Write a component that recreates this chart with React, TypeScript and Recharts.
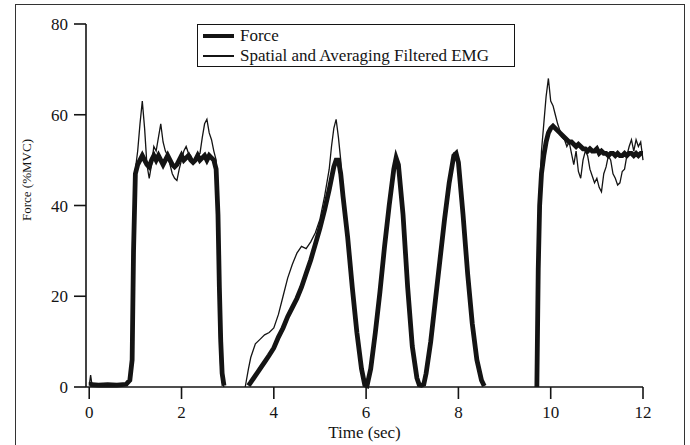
import React from 'react';
import { LineChart, Line, XAxis, YAxis } from 'recharts';

const FONT = '"Liberation Serif", "Times New Roman", serif';
const INK = '#141414';

// time axis (sec); nulls in the series mark stretches where nothing was plotted
const timeSec = [
  // rest, then step up
  0, 0.03, 0.06, 0.2, 0.4, 0.6, 0.8, 0.88, 0.93, 0.96, 1.0,
  // hold
  1.05, 1.1, 1.15, 1.2, 1.25, 1.3, 1.35, 1.4, 1.45, 1.5,
  1.55, 1.6, 1.65, 1.7, 1.75, 1.8, 1.85, 1.9, 1.95, 2.0,
  2.05, 2.1, 2.15, 2.2, 2.25, 2.3, 2.35, 2.4, 2.45, 2.5,
  2.55, 2.6, 2.65, 2.7, 2.75,
  // release + gap
  2.79, 2.82, 2.85, 2.88, 2.92, 3.1,
  // ramp up and down
  3.38, 3.45, 3.5, 3.6, 3.7, 3.8, 3.9, 4.0, 4.1, 4.2,
  4.3, 4.4, 4.5, 4.6, 4.7, 4.8, 4.9, 5.0, 5.1, 5.2,
  5.25, 5.3, 5.35, 5.4, 5.45, 5.5, 5.6, 5.7, 5.8, 5.9,
  5.97,
  // two fast peaks
  6.02, 6.1, 6.2, 6.3, 6.4, 6.5, 6.6, 6.65, 6.7, 6.8,
  6.9, 7.0, 7.1, 7.15, 7.2, 7.25, 7.3, 7.4, 7.5, 7.6,
  7.7, 7.8, 7.9, 7.95, 8.0, 8.1, 8.2, 8.3, 8.4, 8.5,
  8.56,
  // gap
  9.0,
  // final step
  9.7, 9.73, 9.76,
  9.8, 9.85, 9.9, 9.95,
  10.0, 10.05, 10.1, 10.15, 10.2, 10.25, 10.3, 10.35, 10.4, 10.45,
  10.5, 10.55, 10.6, 10.65, 10.7, 10.75, 10.8, 10.85, 10.9, 10.95,
  11.0, 11.05, 11.1, 11.15, 11.2, 11.25, 11.3, 11.35, 11.4, 11.45,
  11.5, 11.55, 11.6, 11.65, 11.7, 11.75, 11.8, 11.85, 11.9, 11.95,
  12.0,
];

const forcePct = [
  0.5, 0.6, 0.5, 0.4, 0.5, 0.4, 0.6, 1.5, 6, 30, 47,
  49, 50, 51, 50, 49, 48.5, 50, 51, 50, 51,
  50, 49, 50, 51, 50, 49, 48.5, 49, 50, 51,
  50, 50.5, 51, 50, 49.5, 50, 51, 50, 50.5, 51,
  50, 51, 50.5, 50, 48,
  38, 22, 10, 3, 0.3, null,
  null, 0.3, 1, 2.5, 4, 5.5, 7, 8.6, 11, 13,
  15.5, 17.5, 19.5, 22, 25, 28, 31.5, 35, 39, 43.5,
  46, 48.5, 50, 50, 47, 42, 33, 22, 12, 4,
  0.5,
  0.3, 4, 12, 21, 31, 40, 48, 50.5, 49, 38,
  22, 9, 2, 0.5, 0.4, 0.6, 3, 10, 19, 28,
  37, 45, 51, 51.5, 49.5, 38, 25, 14, 6, 1.5,
  0.2,
  null,
  0, 26, 40,
  47, 51, 54, 56,
  57, 57.5, 57, 56.5, 56, 55.5, 55, 54.5, 54, 54,
  53.5, 53, 53.5, 53, 52.5, 52.5, 52, 52.5, 52, 52,
  52.5, 51.5, 52, 51.5, 51.5, 51, 51.5, 51.5, 51, 51.5,
  51, 51, 51.5, 51, 51.5, 51.5, 51, 51.5, 51, 51.5,
  51.5,
];

const emgPct = [
  0.3, 2.6, 0.4, 0.7, 0.3, 0.6, 0.5, 1.5, 5, 32, 48,
  52, 58, 63, 57, 49, 46, 49, 53, 52, 55,
  58, 54, 52, 51, 49, 47, 46, 45.5, 48, 50,
  52, 53, 51.5, 51, 50, 50.5, 51, 51.5, 55, 58,
  59, 56, 54.5, 52, 50,
  30, 12, 4, 1, 0, null,
  0, 4, 6.5, 9.5, 10.5, 11.5, 12, 13, 16, 20,
  24, 27, 29.5, 31, 30.5, 32, 34, 37, 42, 48,
  53, 57, 59, 55, 50, 42, 33.5, 23, 12.5, 4.5,
  0.8,
  0.8, 4.5, 13, 22, 31.5, 41, 48.5, 50, 48, 37,
  21, 8, 1.5, 0.3, 0.2, 0.8, 3.5, 11, 20, 29,
  38, 46, 51.5, 51, 50.5, 40, 26, 15, 7, 2,
  0.3,
  null,
  0, 30, 44,
  52, 58, 64, 68,
  63, 62, 60, 58, 56.5, 55, 54.5, 53, 54, 51.5,
  49, 52, 47.5, 46, 50, 52, 51, 48, 46.5, 45,
  46, 44, 43, 47, 48.5, 51, 50, 47, 46, 44.5,
  45, 47.5, 48, 51, 53, 54.5, 52, 54.5, 53, 54,
  50,
];

const xTicks = [0, 2, 4, 6, 8, 10, 12];
const yTicks = [0, 20, 40, 60, 80];
const seriesNames = ['Force', 'Spatial and Averaging Filtered EMG'];

const data = timeSec.map((t, i) => ({ t, force: forcePct[i], emg: emgPct[i] }));

// legend box drawn over the plot, top-middle
const LegendBox = () => (
  <div
    style={{
      position: 'absolute',
      left: 197,
      top: 24,
      width: 318,
      height: 43,
      boxSizing: 'border-box',
      border: `1.5px solid ${INK}`,
      background: '#fff',
      padding: '1px 0 0 5px',
      fontFamily: FONT,
      fontSize: 17,
      lineHeight: '20px',
      color: INK,
    }}
  >
    {seriesNames.map((name, i) => (
      <div key={name} style={{ display: 'flex', alignItems: 'center', whiteSpace: 'nowrap' }}>
        <span
          style={{
            display: 'inline-block',
            width: 31,
            height: i === 0 ? 4.5 : 1.3,
            background: INK,
            marginRight: 6,
          }}
        />
        {name}
      </div>
    ))}
  </div>
);

export default function App() {
  return (
    <div
      style={{
        position: 'absolute',
        left: 0,
        top: 0,
        width: 690,
        height: 445,
        overflow: 'hidden',
        background: '#fff',
      }}
    >
      {/* outer frame of the figure */}
      <div
        style={{
          position: 'absolute',
          left: 15,
          top: 4,
          width: 668,
          height: 470,
          border: '1.5px solid #333',
        }}
      />
      <LineChart
        width={690}
        height={445}
        data={data}
        margin={{ top: 24, right: 47, bottom: 0, left: 0 }}
        style={{ position: 'absolute', left: 0, top: 0 }}
      >
        <XAxis
          dataKey="t"
          type="number"
          domain={[-0.07, 12]}
          ticks={xTicks}
          height={58}
          tickSize={12}
          tickMargin={7}
          stroke={INK}
          strokeWidth={1.6}
          tick={{ fill: INK, fontSize: 17, fontFamily: FONT }}
          label={{
            content: () => (
              <text x={364.5} y={438} textAnchor="middle" fill={INK} fontSize={17} fontFamily={FONT}>
                Time (sec)
              </text>
            ),
          }}
        />
        <YAxis
          type="number"
          domain={[0, 80]}
          ticks={yTicks}
          width={86}
          tickSize={12}
          tickMargin={6}
          stroke={INK}
          strokeWidth={1.6}
          tick={{ fill: INK, fontSize: 17, fontFamily: FONT }}
          label={{
            content: () => (
              <text
                x={26}
                y={180}
                transform="rotate(-90 26 180)"
                textAnchor="middle"
                dominantBaseline="central"
                fill={INK}
                fontSize={13}
                fontFamily={FONT}
              >
                Force (%MVC)
              </text>
            ),
          }}
        />
        <Line
          dataKey="force"
          name={seriesNames[0]}
          type="linear"
          stroke={INK}
          strokeWidth={4.8}
          dot={false}
          connectNulls={false}
          isAnimationActive={false}
        />
        <Line
          dataKey="emg"
          name={seriesNames[1]}
          type="linear"
          stroke={INK}
          strokeWidth={1.3}
          dot={false}
          connectNulls={false}
          isAnimationActive={false}
        />
      </LineChart>
      <LegendBox />
    </div>
  );
}
